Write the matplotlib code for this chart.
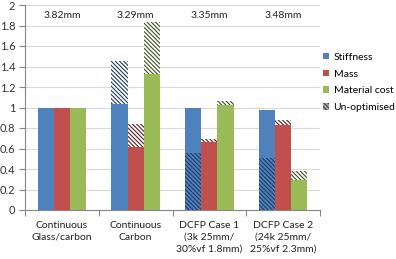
import matplotlib
matplotlib.use("Agg")
import matplotlib.pyplot as plt
import numpy as np
from matplotlib.patches import Patch

plt.rcParams['font.family'] = ['Lato', 'DejaVu Sans']
plt.rcParams['hatch.linewidth'] = 0.8

categories = ["Continuous\nGlass/carbon", "Continuous\nCarbon",
              "DCFP Case 1\n(3k 25mm/\n30%vf 1.8mm)", "DCFP Case 2\n(24k 25mm/\n25%vf 2.3mm)"]
thickness = ["3.82mm", "3.29mm", "3.35mm", "3.48mm"]

stiffness = [1.0, 1.03, 1.0, 0.975]
mass = [1.0, 0.61, 0.66, 0.83]
material_cost = [1.0, 1.33, 1.02, 0.29]

stiffness_unopt = [np.nan, 1.45, 0.56, 0.505]
mass_unopt = [np.nan, 0.84, 0.69, 0.875]
material_cost_unopt = [np.nan, 1.83, 1.065, 0.38]

series = [
    ("Stiffness", stiffness, stiffness_unopt, "#4F81BD", "#1F3C66"),
    ("Mass", mass, mass_unopt, "#C0504D", "#5E1E1C"),
    ("Material cost", material_cost, material_cost_unopt, "#9BBB59", "#3F5220"),
]

HATCH = '\\' * 8

fig = plt.figure(figsize=(3.96, 2.59), dpi=100)
ax = fig.add_axes([25/396, 1 - 210/259, 295/396, 205/259])

x = np.arange(len(categories))
w = 0.22
for i, (name, vals, unopt, col, hcol) in enumerate(series):
    pos = x + (i - 1) * w
    vals = np.array(vals, dtype=float)
    unopt = np.array(unopt, dtype=float)
    ax.bar(pos, vals, width=w, color=col, zorder=2, linewidth=0)
    above = unopt > vals
    bottom = np.where(above, vals, 0.0)
    height = np.where(above, unopt - vals, unopt)
    faces = ['white' if a else 'none' for a in above]
    ax.bar(pos, height, bottom=bottom, width=w, color=faces, edgecolor=hcol,
           hatch=HATCH, linewidth=0, zorder=3)

for xi, t in zip(x, thickness):
    ax.text(xi, 1.9, t, ha='center', va='center', fontsize=7.5, color='#222222')

ax.set_xlim(-0.5, 3.5)
ax.set_ylim(0, 2)
ax.set_yticks(np.arange(0, 2.01, 0.2))
ax.set_yticklabels(["0", "0.2", "0.4", "0.6", "0.8", "1", "1.2", "1.4", "1.6", "1.8", "2"],
                   fontsize=8, color='#333333')
ax.set_xticks(x)
ax.set_xticklabels(categories, fontsize=7.5, color='#222222', linespacing=1.4)
ax.set_xticks([-0.5, 0.5, 1.5, 2.5, 3.5], minor=True)
ax.tick_params(axis='x', which='major', length=0, pad=8)
ax.tick_params(axis='x', which='minor', length=4, color='#868686', width=0.8)
ax.tick_params(axis='y', length=4, color='#868686', width=0.8, pad=3)

ax.grid(axis='y', color='#D9D9D9', linewidth=0.8, zorder=0)
ax.set_axisbelow(True)
for s in ['top', 'right']:
    ax.spines[s].set_visible(False)
for s in ['left', 'bottom']:
    ax.spines[s].set_color('#868686')
    ax.spines[s].set_linewidth(0.8)

handles = [Patch(facecolor=c, edgecolor='none', label=n) for n, _, _, c, _ in series]
handles.append(Patch(facecolor='#A6A6A6', edgecolor='#404040', hatch=HATCH,
                     linewidth=0, label='Un-optimised'))
fig.legend(handles=handles, loc='center left', bbox_to_anchor=(319/396, 1 - 82.5/259),
           frameon=False, fontsize=7.5, handlelength=0.6, handleheight=0.6,
           handletextpad=0.4, labelspacing=0.75, borderaxespad=0)

fig.savefig("out.png", dpi=100)
